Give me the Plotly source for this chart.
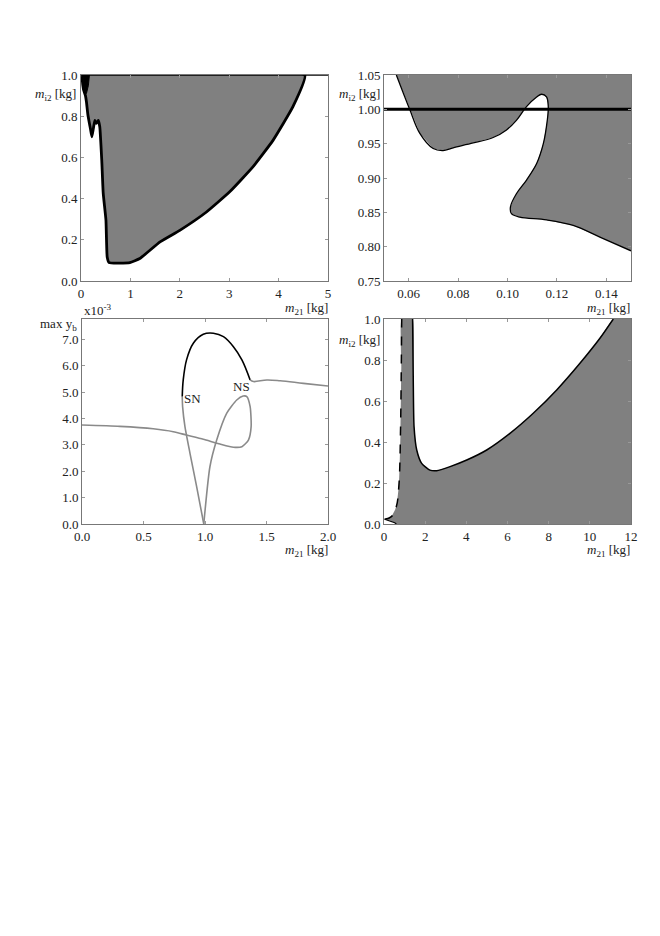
import plotly.graph_objects as go

W, H = 660, 936
OFF = 8  # default HTML body margin
FONT = "Liberation Serif"
GRAY = "#808080"

# ---- Panel 1 (top-left): stability boundary ----
p1_x = [0.04, 0.05, 0.09, 0.11, 0.14, 0.19, 0.22, 0.25, 0.28, 0.31, 0.35, 0.38, 0.42, 0.45, 0.505, 0.53, 0.57,
        0.99, 1.19, 1.6, 2.0, 2.54, 3.01, 3.48, 3.89, 4.29, 4.53]
p1_y = [1.0, 0.93, 0.90, 0.87, 0.806, 0.74, 0.70, 0.74, 0.78, 0.765, 0.78, 0.749, 0.587, 0.425, 0.295, 0.117, 0.089,
        0.089, 0.109, 0.19, 0.246, 0.335, 0.433, 0.554, 0.684, 0.846, 1.0]
p1_blob_x = [0.04, 0.17, 0.15, 0.11, 0.06]
p1_blob_y = [1.0, 1.0, 0.95, 0.91, 0.92]

# ---- Panel 2 (top-right): zoomed boundary ----
p2_x = [0.055, 0.0604, 0.0645, 0.0699, 0.0739, 0.078, 0.0861, 0.0942, 0.0996, 0.1036, 0.1077, 0.1118,
        0.1138, 0.1158, 0.1165, 0.1161, 0.1145, 0.1118, 0.1077, 0.1036, 0.1012, 0.1016, 0.105, 0.1158,
        0.1266, 0.1374, 0.15]
p2_y = [1.05, 1.0, 0.965, 0.943, 0.940, 0.944, 0.951, 0.959, 0.970, 0.984, 1.004, 1.018,
        1.022, 1.018, 1.004, 0.984, 0.950, 0.921, 0.897, 0.877, 0.858, 0.848, 0.843, 0.839,
        0.831, 0.814, 0.794]
p2_ref = 1.0

# ---- Panel 3 (bottom-left): bifurcation diagram, max y_b (x1e-3) ----
p3_loop_x = [0.0, 0.307, 0.579, 0.742, 0.85, 0.986, 1.122, 1.231, 1.30, 1.353, 1.375, 1.367, 1.34, 1.31,
             1.258, 1.177, 1.095, 1.04, 0.99]
p3_loop_y = [3.75, 3.70, 3.61, 3.50, 3.37, 3.21, 3.03, 2.91, 2.93, 3.18, 3.69, 4.45, 4.83, 4.85,
             4.70, 4.20, 3.18, 2.17, 0.0]
p3_back_x = [0.99, 0.932, 0.878, 0.837, 0.818, 0.815]
p3_back_y = [0.0, 1.42, 2.68, 3.69, 4.45, 4.83]
p3_up_x = [0.815, 0.823, 0.85, 0.905, 0.986, 1.068, 1.15, 1.231, 1.30, 1.367]
p3_up_y = [4.83, 5.46, 6.22, 6.85, 7.19, 7.23, 7.10, 6.72, 6.22, 5.46]
p3_right_x = [1.367, 1.394, 1.503, 1.611, 1.80, 2.0]
p3_right_y = [5.46, 5.40, 5.46, 5.43, 5.33, 5.23]

# ---- Panel 4 (bottom-right): boundaries ----
p4_solid_x = [1.39, 1.42, 1.46, 1.59, 1.83, 2.23, 2.56, 3.21, 4.02, 4.99, 6.12, 7.25, 8.39, 9.52, 10.49, 11.14]
p4_solid_y = [1.0, 0.719, 0.475, 0.361, 0.296, 0.263, 0.26, 0.28, 0.312, 0.361, 0.442, 0.54, 0.654, 0.784, 0.906, 1.0]
p4_dash_x = [0.03, 0.357, 0.6, 0.73, 0.80, 0.84, 0.86]
p4_dash_y = [0.023, 0.036, 0.085, 0.198, 0.442, 0.767, 1.0]
p4_low_x = [0.03, 0.276, 0.52, 0.6]
p4_low_y = [0.023, 0.016, 0.0065, 0.0]


def fx(px):
    return (px - OFF) / W


def fy(py):
    return 1 - (py - OFF) / H


def add(fig, **kw):
    fig.add_trace(go.Scatter(showlegend=False, hoverinfo="skip", **kw))


fig = go.Figure()

# Panel 1
add(fig, x=p1_x + [p1_x[0]], y=p1_y + [p1_y[0]], fill="toself", fillcolor=GRAY, mode="lines",
    line=dict(color="black", width=2.8, shape="spline", smoothing=0.4), xaxis="x", yaxis="y")
add(fig, x=p1_blob_x + [p1_blob_x[0]], y=p1_blob_y + [p1_blob_y[0]], fill="toself", fillcolor="black",
    mode="lines", line=dict(color="black", width=1), xaxis="x", yaxis="y")
add(fig, x=[0, 5], y=[1, 1], mode="lines", line=dict(color="black", width=1.5), xaxis="x", yaxis="y")
add(fig, x=[0.14], y=[1.045], mode="markers", marker=dict(color="black", size=2), cliponaxis=False,
    xaxis="x", yaxis="y")

# Panel 2
add(fig, x=p2_x + [0.15, p2_x[0]], y=p2_y + [1.05, 1.05], fill="toself", fillcolor=GRAY, mode="lines",
    line=dict(color="rgba(0,0,0,0)", width=0), xaxis="x2", yaxis="y2")
add(fig, x=p2_x, y=p2_y, mode="lines", line=dict(color="black", width=1.3, shape="spline"),
    xaxis="x2", yaxis="y2")
add(fig, x=[0.05, 0.15], y=[p2_ref, p2_ref], mode="lines", line=dict(color="black", width=3),
    xaxis="x2", yaxis="y2")

# Panel 3
LG = "#8a8a8a"
add(fig, x=p3_loop_x, y=p3_loop_y, mode="lines", line=dict(color=LG, width=1.6, shape="spline", smoothing=0.6),
    xaxis="x3", yaxis="y3")
add(fig, x=p3_back_x, y=p3_back_y, mode="lines", line=dict(color=LG, width=1.6, shape="spline", smoothing=0.6),
    xaxis="x3", yaxis="y3")
add(fig, x=p3_up_x, y=p3_up_y, mode="lines", line=dict(color="black", width=1.6, shape="spline"),
    xaxis="x3", yaxis="y3")
add(fig, x=p3_right_x, y=p3_right_y, mode="lines", line=dict(color=LG, width=1.6, shape="spline"),
    xaxis="x3", yaxis="y3")

# Panel 4
poly4_x = p4_dash_x + p4_solid_x + [12, 12] + p4_low_x[::-1]
poly4_y = p4_dash_y + p4_solid_y + [1.0, 0.0] + p4_low_y[::-1]
add(fig, x=poly4_x, y=poly4_y, fill="toself", fillcolor=GRAY, mode="lines",
    line=dict(color="rgba(0,0,0,0)", width=0, shape="spline", smoothing=0.4), xaxis="x4", yaxis="y4")
add(fig, x=p4_solid_x, y=p4_solid_y, mode="lines", line=dict(color="black", width=1.5, shape="spline", smoothing=0.6),
    xaxis="x4", yaxis="y4")
add(fig, x=p4_dash_x, y=p4_dash_y, mode="lines", line=dict(color="black", width=1.5, dash="dash", shape="spline"),
    xaxis="x4", yaxis="y4")
add(fig, x=p4_low_x, y=p4_low_y, mode="lines", line=dict(color="black", width=1.2), xaxis="x4", yaxis="y4")

axis_common = dict(showgrid=False, zeroline=False, showline=True, linecolor="#777", linewidth=1,
                   mirror="ticks", ticks="inside", ticklen=3, tickcolor="#999", automargin=False,
                   tickfont=dict(family=FONT, size=13, color="#222"))

fig.update_layout(
    width=W, height=H, margin=dict(l=0, r=0, t=0, b=0),
    paper_bgcolor="white", plot_bgcolor="white", showlegend=False,
    xaxis=dict(domain=[fx(81), fx(328)], range=[0, 5], tickvals=[0, 1, 2, 3, 4, 5], anchor="y", **axis_common),
    yaxis=dict(domain=[fy(281), fy(75)], range=[0, 1], tickvals=[0, 0.2, 0.4, 0.6, 0.8, 1.0], tickformat=".1f",
               anchor="x", **axis_common),
    xaxis2=dict(domain=[fx(384), fx(631)], range=[0.05, 0.15], tickvals=[0.06, 0.08, 0.10, 0.12, 0.14],
                tickformat=".2f", anchor="y2", **axis_common),
    yaxis2=dict(domain=[fy(281), fy(75)], range=[0.75, 1.05],
                tickvals=[0.75, 0.80, 0.85, 0.90, 0.95, 1.00, 1.05], tickformat=".2f", anchor="x2", **axis_common),
    xaxis3=dict(domain=[fx(82), fx(328)], range=[0, 2], tickvals=[0, 0.5, 1.0, 1.5, 2.0], tickformat=".1f",
                anchor="y3", **axis_common),
    yaxis3=dict(domain=[fy(524), fy(319)], range=[0, 7.77], tickvals=[0, 1, 2, 3, 4, 5, 6, 7], tickformat=".1f",
                anchor="x3", **axis_common),
    xaxis4=dict(domain=[fx(384), fx(631)], range=[0, 12], tickvals=[0, 2, 4, 6, 8, 10, 12], anchor="y4",
                **axis_common),
    yaxis4=dict(domain=[fy(524), fy(319)], range=[0, 1], tickvals=[0, 0.2, 0.4, 0.6, 0.8, 1.0], tickformat=".1f",
                anchor="x4", **axis_common),
)

lab_font = dict(family=FONT, size=13, color="#222")
mi2 = "<i>m</i><sub>i2</sub> [kg]"
m21 = "<i>m</i><sub>21</sub> [kg]"
annots = [
    (mi2, 78, 94, "right"), (m21, 330, 308, "right"),
    (mi2, 382, 94, "right"), (m21, 632, 308, "right"),
    ("max y<sub>b</sub>", 79, 324, "right"), ("x10<sup>-3</sup>", 82, 310, "left"), (m21, 330, 550, "right"),
    (mi2, 382, 340, "right"), (m21, 632, 550, "right"),
]
for text, x, y, xa in annots:
    fig.add_annotation(text=text, x=fx(x), y=fy(y), xref="paper", yref="paper", xanchor=xa, yanchor="middle",
                       showarrow=False, font=lab_font)

fig.add_annotation(text="SN", x=0.897, y=4.74, xref="x3", yref="y3", showarrow=False, font=lab_font)
fig.add_annotation(text="NS", x=1.293, y=5.23, xref="x3", yref="y3", showarrow=False, font=lab_font)

fig.write_html("out.html")
